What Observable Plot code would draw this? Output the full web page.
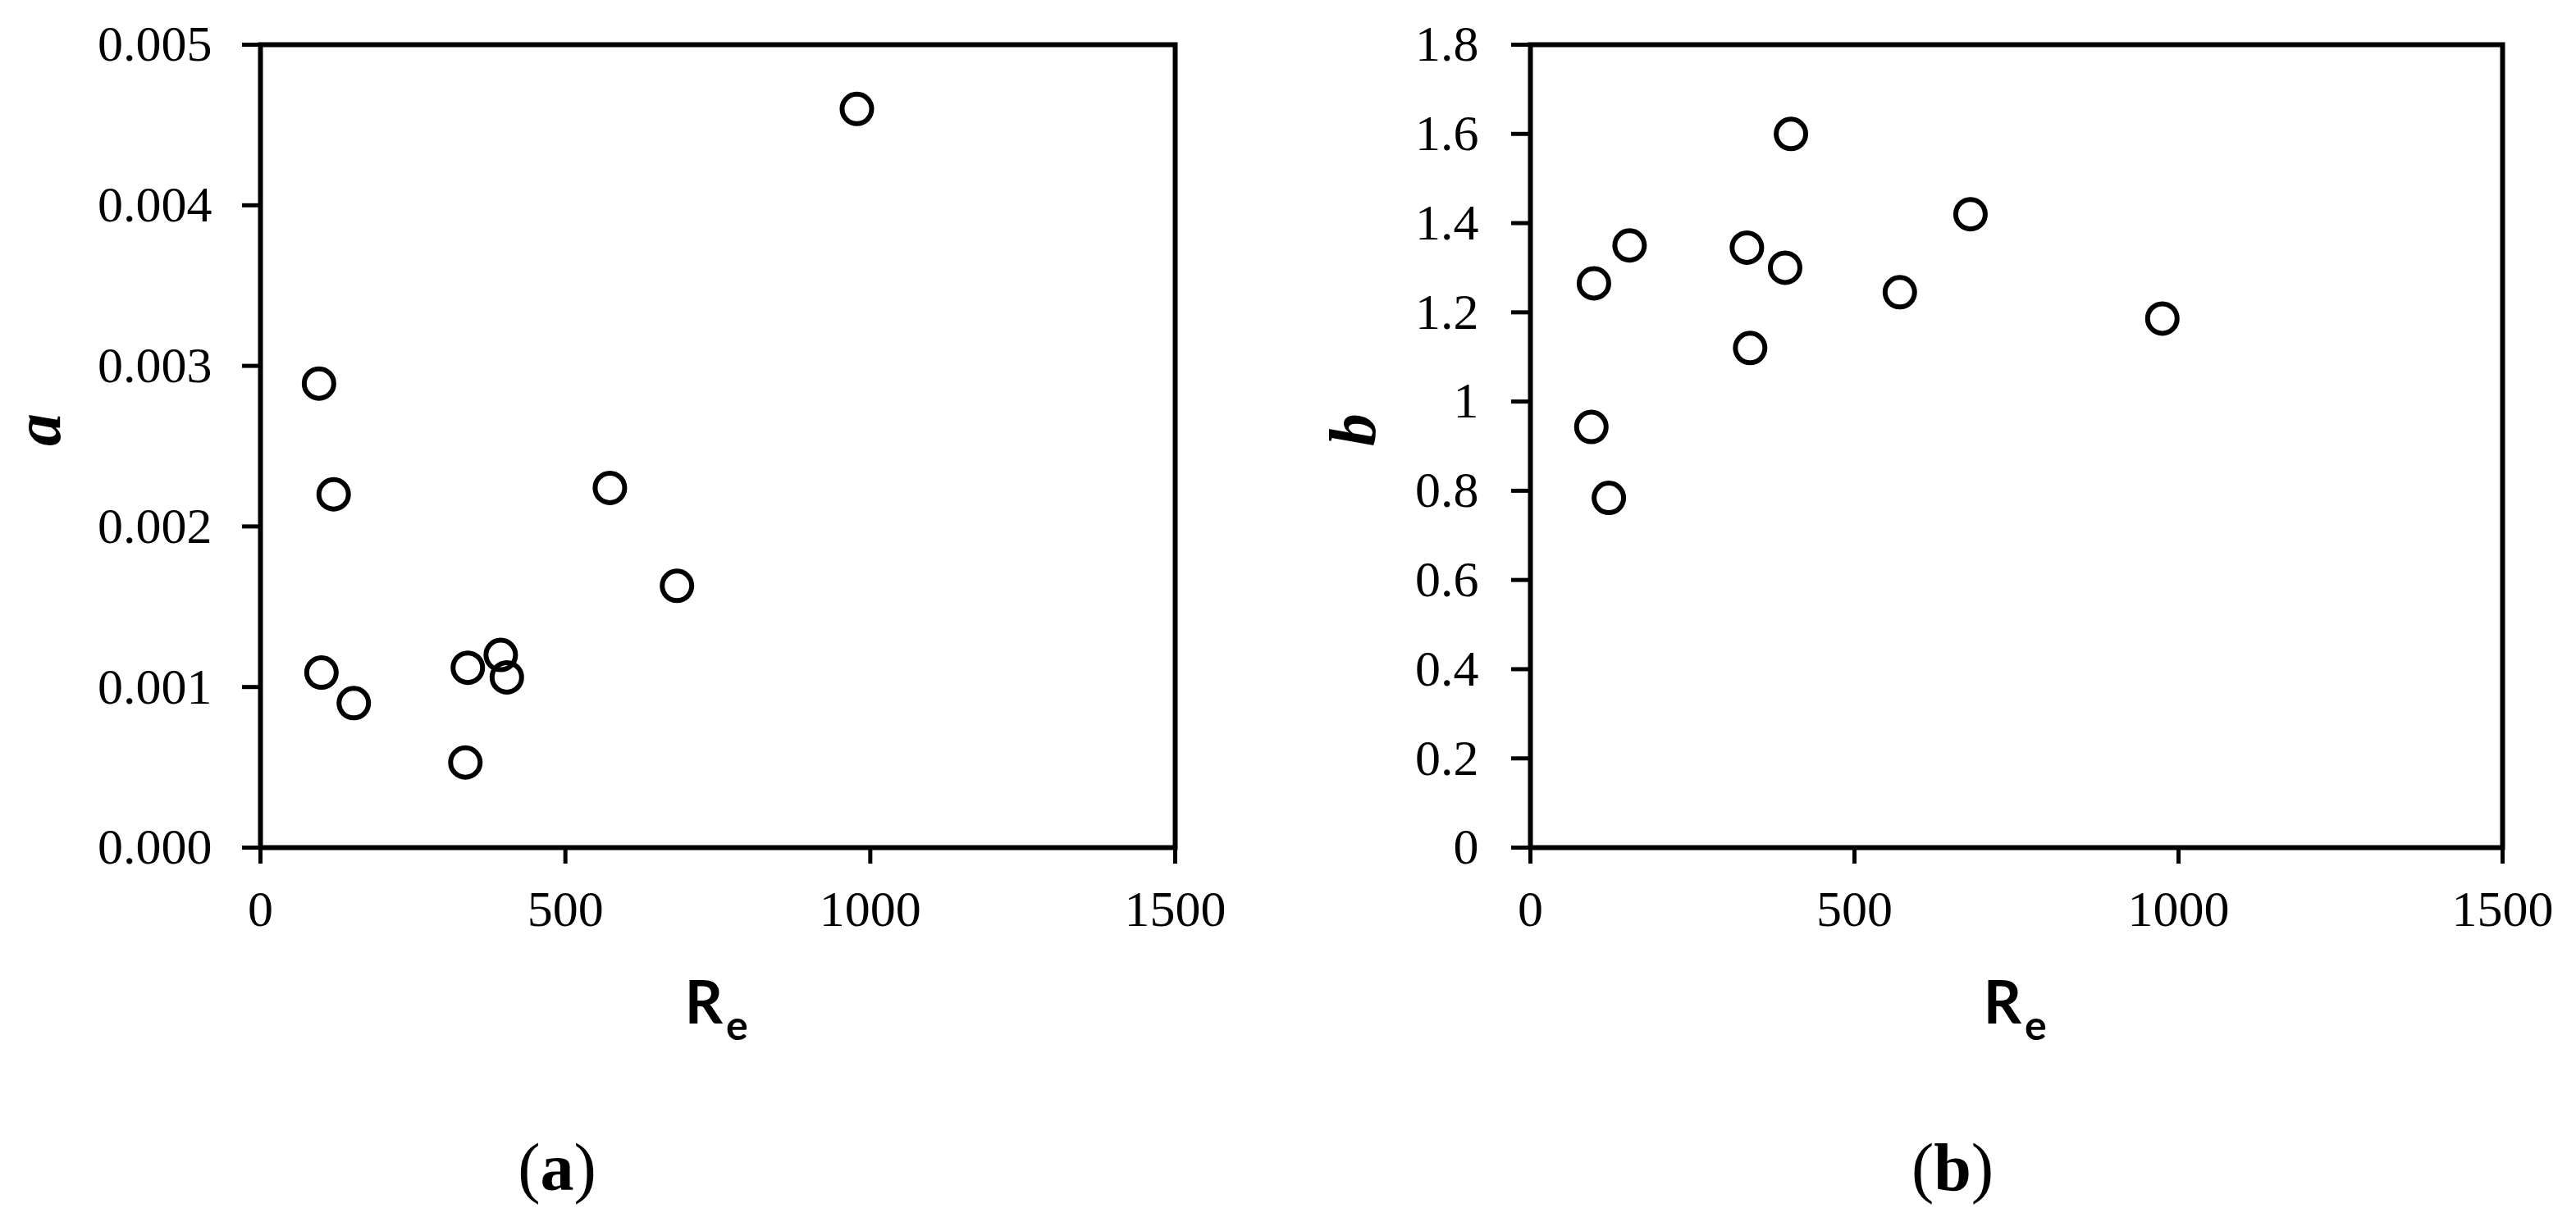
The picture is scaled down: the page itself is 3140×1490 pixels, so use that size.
<!DOCTYPE html>
<html><head><meta charset="utf-8">
<script src="https://cdn.jsdelivr.net/npm/d3@7"></script>
<script src="https://cdn.jsdelivr.net/npm/@observablehq/plot@0.6"></script>
<style>
html,body{margin:0;padding:0;background:#fff;}
#wrap{position:relative;width:3140px;height:1490px;overflow:hidden;background:#fff;}
.panel{position:absolute;top:0;}
.cap{position:absolute;font-family:"Liberation Serif",serif;font-size:82px;line-height:1;color:#000;white-space:nowrap;transform:translateX(-50%);}
</style></head><body><div id="wrap"></div>
<script>
// Panel (a): Re vs a
const reA = [96, 120, 573, 683, 100, 153, 340, 394, 404, 336, 978];
const aVals = [0.00289, 0.00220, 0.00224, 0.00163, 0.00109, 0.00090, 0.00112, 0.00120, 0.00106, 0.00053, 0.00460];
// Panel (b): Re vs b
const reB = [402, 679, 153, 334, 393, 98, 570, 339, 94, 121, 975];
const bVals = [1.60, 1.42, 1.35, 1.345, 1.30, 1.265, 1.245, 1.12, 0.943, 0.784, 1.186];
// Ticks
const xTicks = [0, 500, 1000, 1500];
const aTicks = [0, 0.001, 0.002, 0.003, 0.004, 0.005];
const bTicks = [0, 0.2, 0.4, 0.6, 0.8, 1.0, 1.2, 1.4, 1.6, 1.8];
const xDomain = [0, 1500];
const aDomain = [0, 0.005];
const bDomain = [0, 1.8];

const H = 1490, TOP = 54, BOTTOM = 1033;

function panel({left, width, marginLeft, marginRight, xs, ys, yDomain, yTicks, yFmt, yLabel, labelDx, tickSize, tickPad}) {
  const data = xs.map((x, i) => ({x, y: ys[i]}));
  const svg = Plot.plot({
    width, height: H,
    marginLeft, marginRight, marginTop: TOP, marginBottom: H - BOTTOM,
    style: {fontFamily: "Liberation Serif", background: "transparent", color: "#000", overflow: "visible"},
    x: {domain: xDomain},
    y: {domain: yDomain},
    marks: [
      Plot.axisX({ticks: xTicks, tickSize: 20, tickPadding: 31, fontSize: 62, strokeWidth: 5, label: null, tickFormat: d => String(d)}),
      Plot.axisY({ticks: yTicks, tickSize, tickPadding: tickPad, fontSize: 62, strokeWidth: 5, label: null, tickFormat: yFmt}),
      Plot.frame({stroke: "#000", strokeWidth: 6}),
      Plot.dot(data, {x: "x", y: "y", r: 18, stroke: "#000", strokeWidth: 6, fill: "none"}),
      Plot.text([yLabel], {text: d => d, frameAnchor: "left", dx: labelDx, rotate: -90, fontSize: 80, fontWeight: "bold", fontStyle: "italic", fontFamily: "Liberation Serif"}),
      Plot.text(["R"], {text: d => d, frameAnchor: "bottom", dx: 6, dy: 214, textAnchor: "end", lineAnchor: "bottom", fontSize: 72, fontWeight: "bold", fontFamily: "Lato"}),
      Plot.text(["e"], {text: d => d, frameAnchor: "bottom", dx: 10, dy: 234, textAnchor: "start", lineAnchor: "bottom", fontSize: 50, fontWeight: "bold", fontFamily: "Lato"})
    ]
  });
  svg.classList.add("panel");
  svg.style.left = left + "px";
  document.getElementById("wrap").appendChild(svg);
}

panel({left: 0, width: 1500, marginLeft: 317, marginRight: 68, xs: reA, ys: aVals, yDomain: aDomain, yTicks: aTicks,
  yFmt: d3.format(".3f"), yLabel: "a", labelDx: -270, tickSize: 22, tickPad: 37});
panel({left: 1500, width: 1640, marginLeft: 365, marginRight: 90, xs: reB, ys: bVals, yDomain: bDomain, yTicks: bTicks,
  yFmt: d => String(+d.toFixed(1)), yLabel: "b", labelDx: -215, tickSize: 23, tickPad: 40});

const caps = [{t: "a", x: 679}, {t: "b", x: 2380}];
for (const c of caps) {
  const div = document.createElement("div");
  div.className = "cap";
  div.style.left = c.x + "px";
  div.style.top = (1452 - 69) + "px";
  div.innerHTML = "(<b>" + c.t + "</b>)";
  document.getElementById("wrap").appendChild(div);
}
</script>
</body></html>
